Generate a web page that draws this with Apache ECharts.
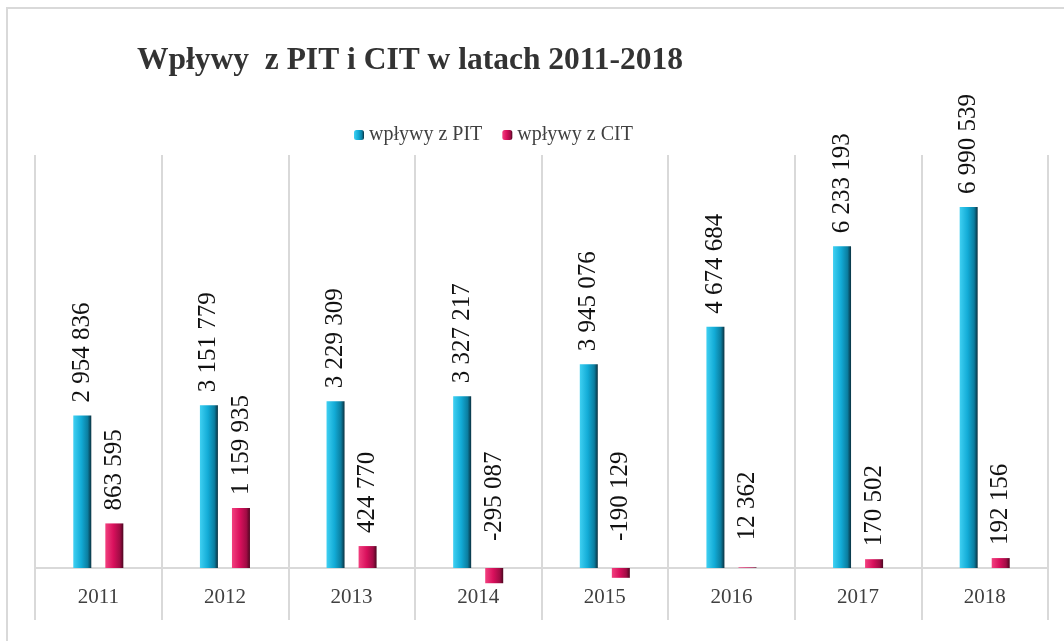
<!DOCTYPE html>
<html>
<head>
<meta charset="utf-8">
<title>Wpływy z PIT i CIT</title>
<script src="https://cdn.jsdelivr.net/npm/echarts@6/dist/echarts.min.js"></script>
<style>
  html, body { margin: 0; padding: 0; background: #fff; }
  #chart { width: 1064px; height: 641px; }
</style>
</head>
<body>
<div id="chart"></div>
<script>
// dane z wykresu
const years = ['2011', '2012', '2013', '2014', '2015', '2016', '2017', '2018'];
const pit = [2954836, 3151779, 3229309, 3327217, 3945076, 4674684, 6233193, 6990539];
const cit = [863595, 1159935, 424770, -295087, -190129, 12362, 170502, 192156];

const serif = "'Liberation Serif', 'Times New Roman', serif";

// liczby z odstępem tysięcy jak w Excelu
function fmt(v) {
    const s = Math.abs(v).toString().replace(/\B(?=(\d{3})+(?!\d))/g, ' ');
    return (v < 0 ? '-' : '') + s;
}

function grad(c1, c2, c3, c4) {
    return new echarts.graphic.LinearGradient(0, 0, 1, 0, [
        { offset: 0, color: c1 },
        { offset: 0.45, color: c2 },
        { offset: 0.8, color: c3 },
        { offset: 1, color: c4 }
    ]);
}

// małe / ujemne słupki mają etykietę trochę wyżej
function items(arr) {
    return arr.map(v => ({
        value: v,
        label: { distance: v < 100000 ? 27 : 13 }
    }));
}

const chart = echarts.init(document.getElementById('chart'));

const barLabel = {
    show: true,
    position: 'top',
    rotate: 90,
    align: 'left',
    verticalAlign: 'middle',
    fontFamily: serif,
    fontSize: 25,
    color: '#111',
    formatter: p => fmt(p.value)
};

chart.setOption({
    animation: false,
    textStyle: { fontFamily: serif },
    graphic: [{
        type: 'rect',
        shape: { x: 7, y: 8, width: 1200, height: 800 },
        style: { fill: 'none', stroke: '#d9d9d9', lineWidth: 2 },
        silent: true
    }],
    title: {
        text: 'Wpływy  z PIT i CIT w latach 2011-2018',
        left: 132,
        top: 40,
        textStyle: {
            fontFamily: serif,
            fontSize: 31.5,
            fontWeight: 'bold',
            color: '#333'
        }
    },
    legend: {
        top: 120,
        left: 349,
        itemWidth: 10,
        itemHeight: 10,
        itemGap: 20,
        textStyle: { fontFamily: serif, fontSize: 20, color: '#404040' },
        data: ['wpływy z PIT', 'wpływy z CIT']
    },
    grid: { left: 35, right: 16, top: 155, bottom: 73 },
    xAxis: {
        type: 'category',
        data: years,
        axisLine: { lineStyle: { color: '#d9d9d9', width: 2 } },
        axisTick: { show: true, inside: false, length: 52, lineStyle: { color: '#d9d9d9', width: 2 } },
        splitLine: { show: true, lineStyle: { color: '#d9d9d9', width: 2 } },
        axisLabel: { fontFamily: serif, fontSize: 21, color: '#404040', margin: 19 }
    },
    yAxis: {
        type: 'value',
        min: 0,
        max: 8000000,
        show: false,
        splitLine: { show: false }
    },
    series: [
        {
            name: 'wpływy z PIT',
            type: 'bar',
            data: items(pit),
            barWidth: 18,
            barGap: '78%',
            clip: false,
            itemStyle: { color: grad('#3fd0f2', '#12abd6', '#0b7ea0', '#0a3140') },
            label: barLabel
        },
        {
            name: 'wpływy z CIT',
            type: 'bar',
            data: items(cit),
            barWidth: 18,
            clip: false,
            itemStyle: { color: grad('#f2407f', '#d8105c', '#a20c45', '#4d0620') },
            label: barLabel
        }
    ]
});
</script>
</body>
</html>
